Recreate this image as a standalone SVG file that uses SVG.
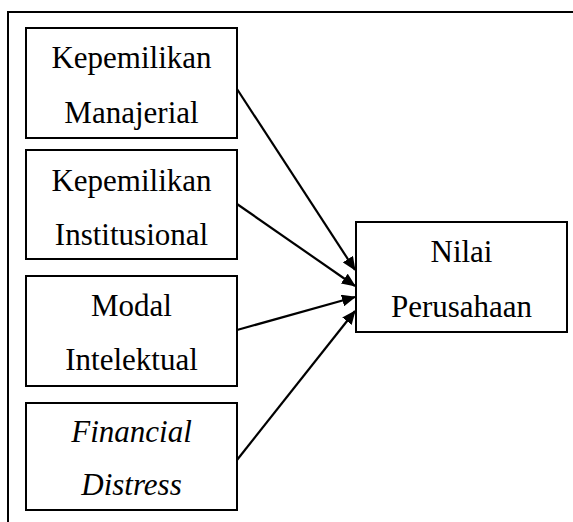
<svg xmlns="http://www.w3.org/2000/svg" width="573" height="522" viewBox="0 0 573 522">
<style>
.box{fill:#fff;stroke:#000;stroke-width:2}
.t{font-family:'Liberation Serif','Times New Roman',Tinos,'DejaVu Serif',serif;font-size:31px;fill:#000;text-anchor:middle}
.it{font-style:italic}
.c{stroke:#000;stroke-width:2.2;fill:none;marker-end:url(#ah)}
</style>
<defs>
<marker id="ah" markerWidth="14" markerHeight="12" refX="13" refY="6" orient="auto" markerUnits="userSpaceOnUse" viewBox="0 0 14 12">
<path d="M0,0 L14,6 L0,12 z" fill="#000"/>
</marker>
</defs>
<rect width="573" height="522" fill="#fff"/>
<path d="M8,522 V12 H573" fill="none" stroke="#000" stroke-width="2"/>
<g id="connectors">
<line class="c" x1="237" y1="89" x2="355" y2="270"/>
<line class="c" x1="237" y1="204" x2="355" y2="286"/>
<line class="c" x1="237" y1="330" x2="355" y2="297"/>
<line class="c" x1="237" y1="460" x2="355" y2="311"/>
</g>
<g id="n1">
<rect class="box" x="26" y="28" width="211" height="110"/>
<text class="t" x="131.5" y="68">Kepemilikan</text>
<text class="t" x="131.5" y="123">Manajerial</text>
</g>
<g id="n2">
<rect class="box" x="26" y="150" width="211" height="109"/>
<text class="t" x="131.5" y="191">Kepemilikan</text>
<text class="t" x="131.5" y="245">Institusional</text>
</g>
<g id="n3">
<rect class="box" x="26" y="276" width="211" height="110"/>
<text class="t" x="131.5" y="316">Modal</text>
<text class="t" x="131.5" y="370">Intelektual</text>
</g>
<g id="n4">
<rect class="box" x="26" y="403" width="211" height="107"/>
<text class="t it" x="131.5" y="442">Financial</text>
<text class="t it" x="131.5" y="495">Distress</text>
</g>
<g id="n5">
<rect class="box" x="356" y="222" width="211" height="110"/>
<text class="t" x="461.5" y="262">Nilai</text>
<text class="t" x="461.5" y="317">Perusahaan</text>
</g>
</svg>
